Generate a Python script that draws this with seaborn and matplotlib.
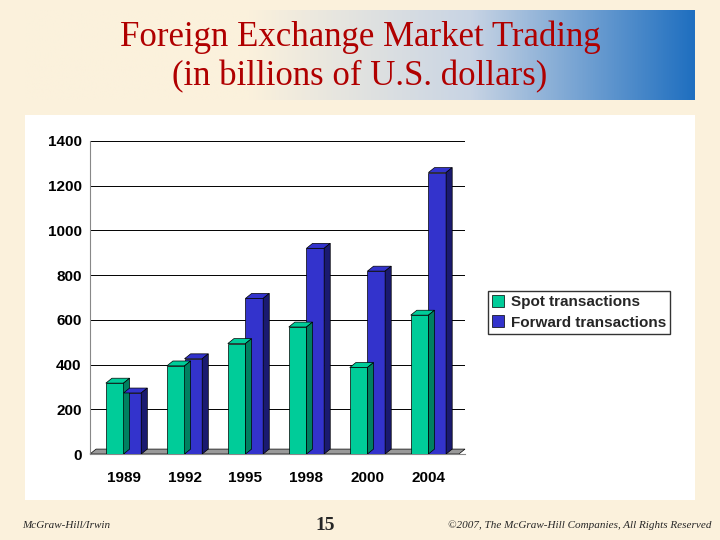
import numpy as np
import pandas as pd
import matplotlib
matplotlib.use('Agg')
import matplotlib.pyplot as plt
from matplotlib.patches import Polygon, Rectangle
from matplotlib.colors import LinearSegmentedColormap
import seaborn as sns

years = ['1989', '1992', '1995', '1998', '2000', '2004']
spot = [317, 394, 494, 568, 387, 621]
forward = [273, 426, 696, 920, 818, 1259]
series = ['Spot transactions', 'Forward transactions']
colors = ['#00CC99', '#3333CC']
dark = ['#008060', '#1a1a70']

df = pd.DataFrame({'year': years * 2,
                   'value': spot + forward,
                   'series': [series[0]] * 6 + [series[1]] * 6})

sns.set_style('white')
plt.rcParams['font.family'] = ['Liberation Sans', 'DejaVu Sans']
fig = plt.figure(figsize=(7.2, 5.4), dpi=100)
fig.patch.set_facecolor('#FBF1DC')

# title banner with gradient
bax = fig.add_axes([25/720, 1 - 100/540, 670/720, 90/540])
grad = np.linspace(0, 1, 256).reshape(1, -1)
cm = LinearSegmentedColormap.from_list('g', ['#FBF1DC', '#FBF1DC', '#C8D4E4', '#1F6FC0'])
bax.imshow(grad, aspect='auto', cmap=cm, extent=[0, 1, 0, 1])
bax.set_axis_off()
fig.text(0.5, 1 - 37/540, 'Foreign Exchange Market Trading', ha='center', va='center',
         fontsize=25, color='#B00000', family='Liberation Serif')
fig.text(0.5, 1 - 77/540, '(in billions of U.S. dollars)', ha='center', va='center',
         fontsize=25, color='#B00000', family='Liberation Serif')

# white panel
pax = fig.add_axes([25/720, 1 - 500/540, 670/720, 385/540])
pax.set_facecolor('white')
pax.set_xticks([])
pax.set_yticks([])
for s in pax.spines.values():
    s.set_visible(False)

ax = fig.add_axes([90/720, 1 - 454/540, 375/720, 313/540])
ax.patch.set_alpha(0)
sns.barplot(data=df, x='year', y='value', hue='series', palette=colors, saturation=1,
            width=0.58, edgecolor='black', linewidth=0.5, ax=ax, legend=False, zorder=3)
ax.set_ylim(0, 1400)
ax.set_yticks(range(0, 1401, 200))
ax.set_xlim(-0.55, 5.6)
ax.yaxis.grid(True, color='black', linewidth=0.7, zorder=0)
ax.set_axisbelow(True)
ax.set_xlabel('')
ax.set_ylabel('')
for s in ['top', 'right']:
    ax.spines[s].set_visible(False)
ax.spines['left'].set_color('#888888')
ax.spines['bottom'].set_color('#888888')
ax.tick_params(labelsize=11, length=0, pad=6, labelcolor='black')
ax.tick_params(axis='x', pad=12)
for t in ax.get_xticklabels() + ax.get_yticklabels():
    t.set_fontweight('bold')

# pseudo 3D depth
dx, dy = 0.1, 22
for i, p in enumerate(ax.patches[:12]):
    k = i // 6
    x0, w, h = p.get_x(), p.get_width(), p.get_height()
    ax.add_patch(Polygon([(x0, h), (x0 + dx, h + dy), (x0 + w + dx, h + dy), (x0 + w, h)],
                         closed=True, facecolor=colors[k], edgecolor='black', lw=0.5, zorder=4))
    ax.add_patch(Polygon([(x0 + w, 0), (x0 + w + dx, dy), (x0 + w + dx, h + dy), (x0 + w, h)],
                         closed=True, facecolor=dark[k], edgecolor='black', lw=0.5, zorder=4))
# floor
ax.add_patch(Polygon([(-0.55, 0), (-0.45, dy), (5.6, dy), (5.5, 0)], closed=True,
                     facecolor='#999999', edgecolor='black', lw=0.5, zorder=2, clip_on=False))

handles = [Rectangle((0, 0), 1, 1, facecolor=c, edgecolor='black', lw=0.5) for c in colors]
fig.legend(handles, series, loc='upper left', bbox_to_anchor=(480/720, 1 - 283/540),
           frameon=True, fancybox=False, edgecolor='black', prop={'size': 11, 'weight': 'bold'},
           handlelength=0.8, handleheight=0.8, handletextpad=0.4, borderpad=0.3,
           labelspacing=0.4)

fig.text(22/720, 1 - 525/540, 'McGraw-Hill/Irwin', fontsize=8, style='italic',
         family='Liberation Serif', va='center')
fig.text(325/720, 1 - 525/540, '15', fontsize=14, fontweight='bold',
         family='Liberation Serif', va='center', ha='center')
fig.text(712/720, 1 - 525/540, '©2007, The McGraw-Hill Companies, All Rights Reserved',
         fontsize=8, style='italic', family='Liberation Serif', va='center', ha='right')

fig.savefig('out.png', dpi=100, facecolor=fig.get_facecolor())
